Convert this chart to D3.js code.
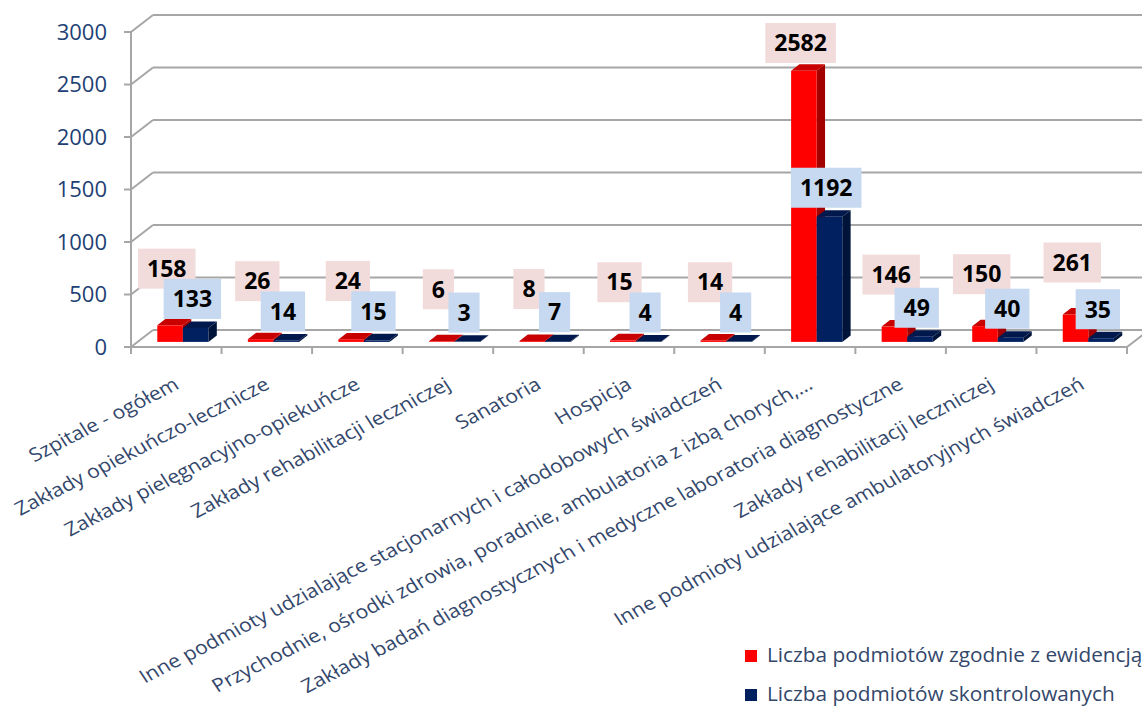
<!DOCTYPE html>
<html>
<head>
<meta charset="utf-8">
<script src="https://cdn.jsdelivr.net/npm/d3@7"></script>
<style>
  html, body { margin: 0; padding: 0; background: #ffffff; }
  svg { display: block; }
  text { font-family: "Open Sans", "Noto Sans", sans-serif; }
</style>
</head>
<body>
<svg id="chart" width="1142" height="706"></svg>
<script>
// Categories of health-care entities
const categories = [
  "Szpitale - ogółem",
  "Zakłady opiekuńczo-lecznicze",
  "Zakłady pielęgnacyjno-opiekuńcze",
  "Zakłady rehabilitacji leczniczej",
  "Sanatoria",
  "Hospicja",
  "Inne podmioty udzialające stacjonarnych i całodobowych świadczeń",
  "Przychodnie, ośrodki zdrowia, poradnie, ambulatoria z izbą chorych,…",
  "Zakłady badań diagnostycznych i medyczne laboratoria diagnostyczne",
  "Zakłady rehabilitacji leczniczej",
  "Inne podmioty udzialające ambulatoryjnych świadczeń"
];
// Number of entities on record
const registered = [158, 26, 24, 6, 8, 15, 14, 2582, 146, 150, 261];
// Number of entities inspected
const inspected = [133, 14, 15, 3, 7, 4, 4, 1192, 49, 40, 35];
const seriesNames = ["Liczba podmiotów zgodnie z ewidencją", "Liczba podmiotów skontrolowanych"];
const yTicks = [0, 500, 1000, 1500, 2000, 2500, 3000];

const svg = d3.select("#chart");

// Plot frame (front edge of the floor and the left wall)
const left = 131, right = 1127, floorY = 347, topY = 32;
const depth = { dx: 22, dy: -17 };           // wall depth projection
const y = d3.scaleLinear().domain([0, 3000]).range([floorY, topY]);
const x = d3.scaleBand().domain(d3.range(categories.length)).range([left, right]).padding(0);
const groupW = x.bandwidth() * 0.565;
const xs = d3.scaleBand().domain([0, 1]).range([-groupW / 2, groupW / 2]).padding(0);

const gridColor = "#a6a6a6";
const axisText = "#223f74";
const catText = "#33476b";

// Back wall gridlines and side-wall diagonals
const grid = svg.append("g").attr("stroke", gridColor).attr("stroke-width", 2).attr("fill", "none");
yTicks.forEach(v => {
  grid.append("line")
    .attr("x1", left + depth.dx).attr("x2", right + depth.dx)
    .attr("y1", y(v) + depth.dy).attr("y2", y(v) + depth.dy);
  grid.append("line")
    .attr("x1", left).attr("x2", left + depth.dx)
    .attr("y1", y(v)).attr("y2", y(v) + depth.dy);
});
// Right edge of the floor
grid.append("line")
  .attr("x1", right).attr("y1", y(0))
  .attr("x2", right + depth.dx).attr("y2", y(0) + depth.dy);

// Front axes
const axes = svg.append("g").attr("stroke", gridColor).attr("stroke-width", 2);
axes.append("line").attr("x1", left).attr("x2", left).attr("y1", y(3000)).attr("y2", y(0) + 1);
axes.append("line").attr("x1", left).attr("x2", right).attr("y1", y(0)).attr("y2", y(0));
yTicks.forEach(v => {
  axes.append("line").attr("x1", left - 7).attr("x2", left).attr("y1", y(v)).attr("y2", y(v));
});
d3.range(categories.length + 1).forEach(i => {
  const xx = i < categories.length ? x(i) : right;
  axes.append("line").attr("x1", xx).attr("x2", xx).attr("y1", y(0)).attr("y2", y(0) + 7);
});

// Y tick labels
svg.append("g").selectAll("text").data(yTicks).join("text")
  .attr("x", 107).attr("y", d => y(d)).attr("dy", "0.36em")
  .attr("text-anchor", "end")
  .attr("font-size", 22).attr("fill", axisText)
  .text(d => d);

// 3D bars: placed part-way into the floor depth
const barBase = { dx: depth.dx * 0.3, dy: depth.dy * 0.3 };
const barDepth = { dx: depth.dx * 0.38, dy: depth.dy * 0.38 };
const palettes = [
  { front: "#ff0000", top: "#c80000", side: "#a30000" },
  { front: "#002060", top: "#00184c", side: "#00143a" }
];
const rows = categories.map((c, i) => ({ i, values: [registered[i], inspected[i]] }));

const bars = svg.append("g");
rows.forEach(r => {
  r.values.forEach((v, s) => {
    const cx = x(r.i) + x.bandwidth() / 2;
    const x0 = cx + xs(s) + barBase.dx;
    const w = xs.bandwidth();
    const yb = y(0) + barBase.dy;
    const yt = y(v) + barBase.dy;
    const p = palettes[s];
    const g = bars.append("g");
    // side face
    g.append("path")
      .attr("d", `M${x0 + w},${yb} L${x0 + w + barDepth.dx},${yb + barDepth.dy} L${x0 + w + barDepth.dx},${yt + barDepth.dy} L${x0 + w},${yt} Z`)
      .attr("fill", p.side);
    // top face
    g.append("path")
      .attr("d", `M${x0},${yt} L${x0 + barDepth.dx},${yt + barDepth.dy} L${x0 + w + barDepth.dx},${yt + barDepth.dy} L${x0 + w},${yt} Z`)
      .attr("fill", p.top);
    // front face
    g.append("rect")
      .attr("x", x0).attr("y", yt).attr("width", w).attr("height", Math.max(0, yb - yt))
      .attr("fill", p.front);
  });
});

// Value labels in shaded boxes
const labelBg = ["#f2dcdb", "#c6d9f1"];
const labelFs = 23, boxH = 40, boxPad = 9;
const labels = svg.append("g");
rows.forEach(r => {
  // measure first, then place both labels of the group
  const items = r.values.map((v, s) => {
    const cx = x(r.i) + x.bandwidth() / 2 + xs(s) + xs.bandwidth() / 2 + barBase.dx / 2;
    const barTop = y(v) + barBase.dy;
    let cy = s === 0 ? barTop - 52 : barTop - 29;
    cy = Math.max(cy, 43);
    const g = labels.append("g");
    const rect = g.append("rect").attr("fill", labelBg[s]);
    const t = g.append("text")
      .attr("text-anchor", "middle").attr("dy", "0.36em")
      .attr("font-size", labelFs).attr("font-weight", "bold").attr("fill", "#000")
      .text(v);
    const tw = t.node().getComputedTextLength();
    return { g, rect, t, cx, cy, tw, bw: tw + 2 * boxPad };
  });
  // keep the red figure clear of the blue box that sits over it
  const [a, b] = items;
  const textBottom = a.cy + 0.36 * labelFs;
  const blueTop = b.cy - boxH / 2;
  const hOverlap = (a.cx + a.tw / 2) > (b.cx - b.bw / 2) && (a.cx - a.tw / 2) < (b.cx + b.bw / 2);
  if (hOverlap && textBottom + 2 > blueTop && a.cy < b.cy) a.cy -= (textBottom + 2 - blueTop);
  items.forEach(it => {
    it.t.attr("x", it.cx).attr("y", it.cy);
    it.rect.attr("x", it.cx - it.bw / 2).attr("y", it.cy - boxH / 2)
      .attr("width", it.bw).attr("height", boxH);
  });
});

// Category labels, slanted and slightly widened
svg.append("g").selectAll("text").data(rows).join("text")
  .attr("transform", d => `translate(${x(d.i) + x.bandwidth() / 2 + 4},${y(0) + 41}) scale(1.13,1) rotate(-30)`)
  .attr("text-anchor", "end")
  .attr("font-size", 18.8).attr("fill", catText)
  .text(d => categories[d.i]);

// Legend
const legend = svg.append("g");
seriesNames.forEach((name, s) => {
  const ly = 650 + s * 39;
  legend.append("rect").attr("x", 745).attr("y", ly).attr("width", 12).attr("height", 12)
    .attr("fill", palettes[s].front);
  legend.append("text").attr("x", 767).attr("y", ly + 12)
    .attr("font-size", 20.8).attr("fill", catText)
    .text(name);
});
</script>
</body>
</html>
